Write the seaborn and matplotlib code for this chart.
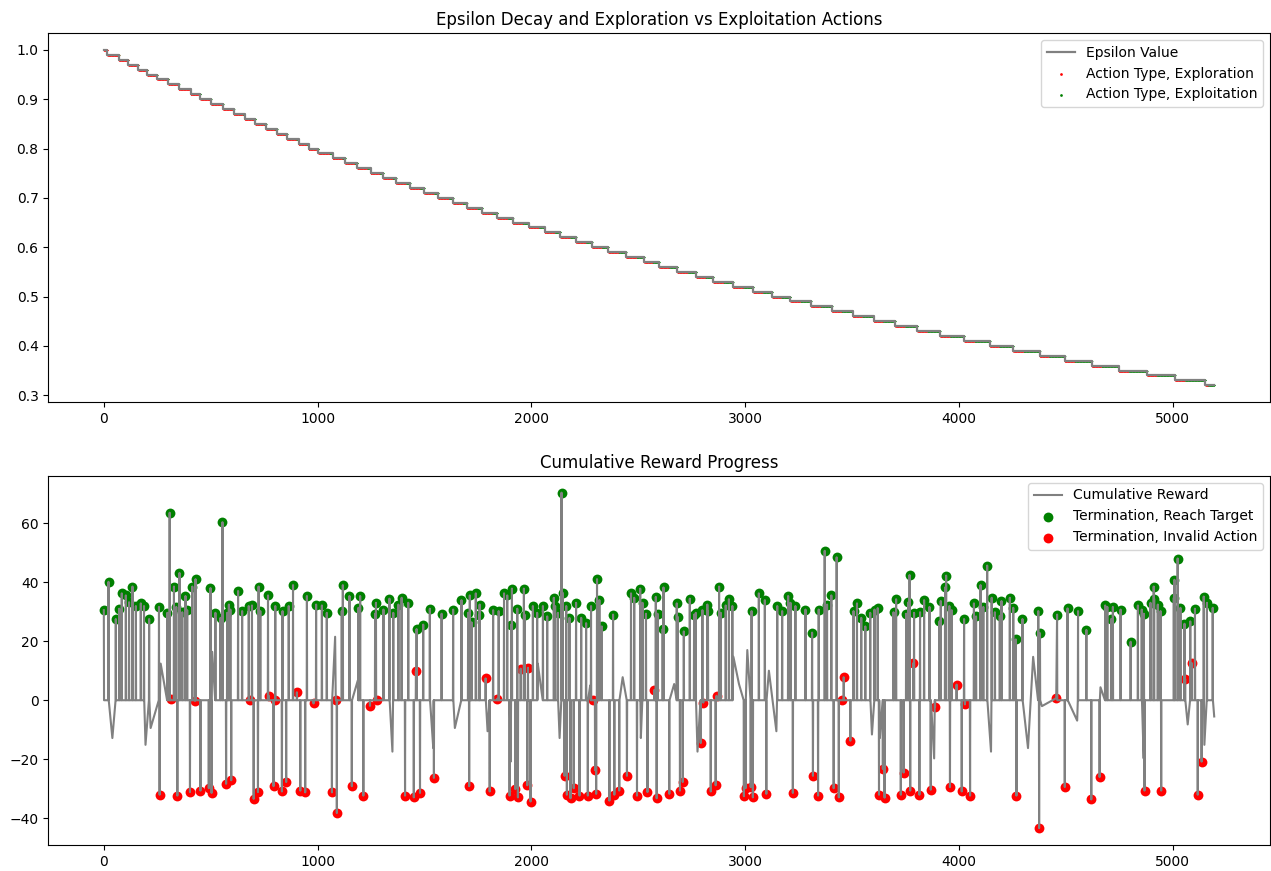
import numpy as np
import pandas as pd
import matplotlib
matplotlib.use("Agg")
import matplotlib.pyplot as plt
import seaborn as sns

# ---------------- Top chart data: epsilon step schedule ----------------
epsilon_levels = [1.00, 0.99, 0.98, 0.97, 0.96, 0.95, 0.94, 0.93, 0.92, 0.91,
                  0.90, 0.89, 0.88, 0.87, 0.86, 0.85, 0.84, 0.83, 0.82, 0.81,
                  0.80, 0.79, 0.78, 0.77, 0.76, 0.75, 0.74, 0.73, 0.72, 0.71,
                  0.70, 0.69, 0.68, 0.67, 0.66, 0.65, 0.64, 0.63, 0.62, 0.61,
                  0.60, 0.59, 0.58, 0.57, 0.56, 0.55, 0.54, 0.53, 0.52, 0.51,
                  0.50, 0.49, 0.48, 0.47, 0.46, 0.45, 0.44, 0.43, 0.42, 0.41,
                  0.40, 0.39, 0.38, 0.37, 0.36, 0.35, 0.34, 0.33, 0.32]
level_starts = [0, 17, 71, 115, 162, 204, 250, 302, 351, 406, 452, 502, 558, 608,
                659, 709, 759, 810, 857, 911, 958, 1004,
                1070, 1129, 1186, 1248, 1307, 1367, 1432, 1499, 1564, 1634, 1698,
                1770, 1841, 1913, 1987, 2062, 2136, 2209, 2284, 2360,
                2443, 2528, 2598, 2683, 2772, 2851, 2943, 3038, 3127, 3212, 3308,
                3406, 3503, 3601, 3702,
                3806, 3912, 4025, 4145, 4254, 4378, 4495, 4622, 4747, 4880, 5011, 5153]
last_step = 5194

# ---------------- Bottom chart data: episode terminations ----------------
target_x = [0, 22, 56, 72, 84, 103, 118, 134, 150, 173, 188, 212, 258, 297, 308, 328,
            339, 354, 367, 382, 390, 414, 429, 499, 522, 546, 555, 577, 585, 592, 628,
            647, 678, 693, 724, 732, 768, 802, 836, 865, 885, 950, 993, 1020, 1043,
            1113, 1118, 1149, 1191, 1199, 1269, 1273, 1308, 1336, 1354, 1378, 1393,
            1424, 1463, 1494, 1525, 1580, 1634, 1673, 1704, 1712, 1720, 1740, 1755,
            1758, 1821, 1847, 1872, 1887, 1906, 1909, 1934, 1965, 1968, 2007, 2027,
            2054, 2074, 2105, 2111, 2124, 2141, 2146, 2163, 2178, 2209, 2233, 2256,
            2279, 2307, 2318, 2329, 2382, 2466, 2481, 2509, 2520, 2536, 2582, 2590,
            2614, 2618, 2680, 2685, 2713, 2741, 2761, 2769, 2800, 2823, 2826, 2878,
            2886, 2909, 2924, 2940, 3030, 3064, 3092, 3150, 3173, 3201, 3212, 3235,
            3282, 3313, 3344, 3372, 3383, 3403, 3428, 3507, 3523, 3543, 3562, 3585,
            3605, 3620, 3694, 3706, 3753, 3764, 3769, 3790, 3818, 3837, 3862, 3909,
            3915, 3935, 3940, 3955, 3966, 4024, 4070, 4080, 4101, 4114, 4132, 4153,
            4168, 4191, 4199, 4238, 4254, 4266, 4297, 4371, 4379, 4459, 4508, 4557,
            4596, 4684, 4694, 4712, 4720, 4756, 4803, 4837, 4855, 4865, 4896, 4911,
            4913, 4930, 4943, 5005, 5008, 5023, 5036, 5055, 5082, 5104, 5145, 5160, 5187]
target_y = [30.5, 40.1, 27.5, 31.0, 36.2, 35.5, 33.2, 38.5, 31.9, 32.8, 31.9, 27.5, 31.6,
            29.6, 63.5, 38.5, 31.6, 43.1, 29.8, 35.3, 30.5, 38.5, 41.0, 38.0, 29.6, 27.9,
            60.3, 29.6, 32.4, 30.7, 37.0, 30.2, 31.9, 32.1, 38.5, 30.2, 35.5, 31.9, 30.2,
            31.9, 39.0, 35.3, 32.4, 32.1, 29.6, 30.2, 39.0, 35.3, 31.3, 35.3, 29.3, 33.0,
            30.7, 34.4, 29.6, 32.4, 34.7, 33.0, 24.1, 25.6, 31.0, 29.3, 30.7, 33.9, 29.6,
            35.5, 26.4, 36.2, 28.7, 32.4, 30.5, 30.2, 36.2, 35.5, 25.6, 37.8, 31.0, 37.8,
            29.0, 31.9, 29.6, 31.9, 28.4, 34.7, 31.9, 29.6, 70.3, 36.4, 31.9, 27.9, 33.0,
            27.9, 26.1, 31.9, 41.0, 33.9, 25.0, 29.0, 36.2, 34.7, 37.8, 33.0, 29.3, 35.0,
            29.3, 24.1, 38.2, 32.8, 28.2, 23.3, 34.4, 29.0, 29.6, 30.5, 32.4, 30.2, 38.5,
            29.6, 32.1, 34.2, 31.9, 30.2, 36.2, 33.9, 31.9, 30.2, 35.3, 33.0, 31.9, 30.7,
            22.9, 30.7, 50.6, 32.4, 35.5, 48.4, 30.2, 32.8, 27.9, 25.0, 29.6, 30.7, 31.2,
            29.8, 34.2, 29.3, 33.2, 42.4, 29.6, 29.8, 33.9, 31.6, 26.7, 33.6, 38.2, 42.2,
            31.9, 30.5, 27.5, 32.8, 28.4, 39.0, 31.6, 45.6, 34.7, 29.8, 28.6, 33.6, 34.7,
            31.3, 20.6, 27.5, 30.2, 22.7, 29.0, 31.1, 30.2, 23.8, 32.1, 31.6, 27.5, 31.6,
            30.7, 19.8, 32.1, 30.7, 29.3, 33.0, 38.5, 34.4, 32.4, 30.2, 34.7, 40.8, 48.0,
            31.3, 25.9, 26.7, 31.0, 35.1, 33.0, 31.3]

invalid_x = [261, 313, 344, 403, 426, 452, 491, 504, 572, 596, 686, 701, 721, 771, 794,
             799, 833, 853, 903, 919, 942, 981, 1067, 1086, 1090, 1160, 1214, 1245, 1280,
             1409, 1450, 1460, 1479, 1544, 1709, 1786, 1805, 1840, 1898, 1925, 1937, 1950,
             1981, 1984, 1996, 2155, 2166, 2183, 2198, 2225, 2264, 2287, 2298, 2303, 2365,
             2388, 2411, 2447, 2494, 2543, 2575, 2586, 2645, 2695, 2708, 2792, 2804, 2839,
             2862, 2866, 2994, 3002, 3026, 3036, 3099, 3223, 3317, 3341, 3414, 3438, 3453,
             3461, 3492, 3626, 3644, 3652, 3728, 3741, 3772, 3787, 3815, 3868, 3888, 3958,
             3989, 4013, 4028, 4052, 4269, 4375, 4455, 4495, 4619, 4658, 4868, 4946, 5058,
             5089, 5117, 5135]
invalid_y = [-32.0, 0.3, -32.3, -31.1, -0.2, -30.6, -29.8, -31.4, -28.3, -27.1, 0.0, -33.4,
             -31.1, 1.5, -29.1, 0.0, -30.9, -27.7, 2.7, -30.6, -31.2, -1.1, -31.2, 0.0,
             -38.2, -29.1, -32.3, -1.9, 0.0, -32.3, -32.9, 9.9, -31.4, -26.3, -29.1, 7.4,
             -30.9, 0.5, -32.3, -30.1, -32.9, 10.7, -28.8, 11.0, -34.3, -25.6, -32.0, -33.2,
             -29.8, -32.3, -32.3, 0.0, -23.7, -31.7, -34.0, -32.0, -30.6, -25.6, -32.3,
             -31.1, 3.5, -33.2, -31.7, -30.6, -27.7, -14.5, -0.8, -30.9, -28.8, 1.5, -32.5,
             -29.8, -29.4, -32.9, -31.7, -31.4, -25.6, -32.3, -29.8, -32.9, 0.0, 7.8, -13.7,
             -32.0, -23.3, -33.0, -32.0, -24.5, -30.6, 12.6, -32.0, -30.3, -2.3, -29.4, 5.3,
             -30.9, -1.4, -32.3, -32.3, -43.3, 0.7, -29.4, -33.6, -26.0, -30.6, -30.6, 7.2,
             12.6, -32.0, -20.8]

# in-episode cumulative reward excursions
midway_x = [40, 195, 219, 266, 507, 1082, 1188, 1350, 1541, 1642, 1795, 1903, 1929, 2030,
            2132, 2275, 2427, 2512, 2668, 2777, 2945, 2971, 3010, 3111, 3146, 3593, 3630,
            3884, 4150, 4323, 4347, 4388, 4553, 4662, 4864, 5070, 5148, 5194]
midway_y = [-12.8, -15.1, -9.4, 12.4, 16.4, 21.5, 6.7, -17.4, -16.2, -9.4, -10.5, -20.8,
            -23.0, 12.4, -12.8, 5.0, 7.8, -12.8, 5.5, -17.4, 14.7, 5.5, 17.0, 10.0, -10.5,
            -11.6, -12.8, -19.7, -17.4, -16.2, 14.7, -2.0, -6.9, 4.4, -19.7, -8.2, -15.1, -5.5]

# stretch of steps with no logged reward (curve jumps straight across)
unlogged_span = (4389, 4458)

# ---------------- Build plotting tables ----------------
step_df = pd.DataFrame({"step": level_starts + [last_step],
                        "epsilon": epsilon_levels + [epsilon_levels[-1]]})

ex_x, ex_y, ep_x, ep_y = [], [], [], []
bounds = level_starts + [last_step + 1]
for i, eps in enumerate(epsilon_levels):
    steps = np.arange(bounds[i], bounds[i + 1])
    n_explore = int(round(eps * len(steps)))
    ex_x.extend(steps[:n_explore]); ex_y.extend([eps] * n_explore)
    ep_x.extend(steps[n_explore:]); ep_y.extend([eps] * (len(steps) - n_explore))

# cumulative reward curve: termination values, ~0 reward right before/after each episode end
events = list(zip(target_x, target_y)) + list(zip(invalid_x, invalid_y))
event_steps = {x for x, _ in events}
occupied = set(event_steps) | set(midway_x)
baseline = []
for x, _ in events:
    for nb in (x - 1, x + 1):
        if 0 <= nb <= last_step and nb not in occupied and not (unlogged_span[0] <= nb <= unlogged_span[1]):
            baseline.append((nb, 0.0))
            occupied.add(nb)
pts_all = sorted(events + baseline + list(zip(midway_x, midway_y)), key=lambda p: p[0])
reward_df = pd.DataFrame(pts_all, columns=["step", "reward"])

# ---------------- Figure ----------------
fig, (ax1, ax2) = plt.subplots(2, 1, figsize=(12.71, 8.71), dpi=100)
fig.subplots_adjust(left=0.038, right=0.999, top=0.962, bottom=0.030, hspace=0.2)

sns.lineplot(data=step_df, x="step", y="epsilon", ax=ax1, color="gray",
             drawstyle="steps-post", estimator=None, sort=False, label="Epsilon Value",
             linewidth=1.6)
sns.scatterplot(x=ex_x, y=ex_y, ax=ax1, color="red", s=1.5, linewidth=0,
                label="Action Type, Exploration")
sns.scatterplot(x=ep_x, y=ep_y, ax=ax1, color="green", s=1.5, linewidth=0,
                label="Action Type, Exploitation")
ax1.set_title("Epsilon Decay and Exploration vs Exploitation Actions")
ax1.set_xlabel(""); ax1.set_ylabel("")
ax1.legend(loc="upper right", markerscale=1.6)

sns.lineplot(data=reward_df, x="step", y="reward", ax=ax2, color="gray",
             estimator=None, sort=False, label="Cumulative Reward", linewidth=1.5)
sns.scatterplot(x=target_x, y=target_y, ax=ax2, color="green", s=50, linewidth=0,
                label="Termination, Reach Target")
sns.scatterplot(x=invalid_x, y=invalid_y, ax=ax2, color="red", s=50, linewidth=0,
                label="Termination, Invalid Action")
ax2.set_title("Cumulative Reward Progress")
ax2.set_xlabel(""); ax2.set_ylabel("")
ax2.legend(loc="upper right")

fig.savefig("out.png", dpi=100)
